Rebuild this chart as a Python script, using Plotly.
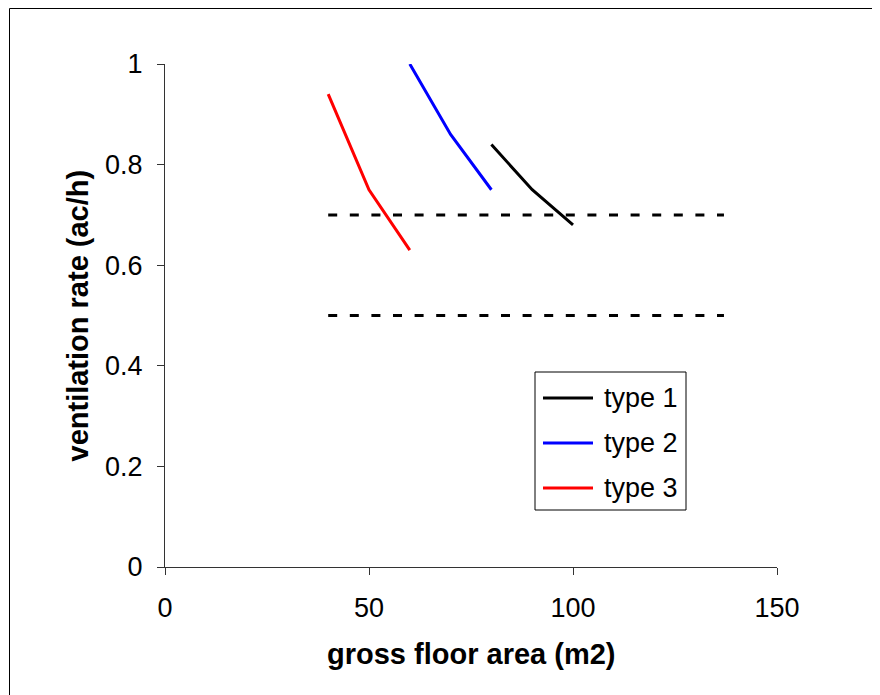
import plotly.graph_objects as go

# ---- data ----
x_type1 = [80, 90, 100]
y_type1 = [0.84, 0.75, 0.68]
x_type2 = [60, 70, 80]
y_type2 = [1.0, 0.86, 0.75]
x_type3 = [40, 50, 60]
y_type3 = [0.94, 0.75, 0.63]
limit_x = [40, 137]
limit_upper = [0.7, 0.7]
limit_lower = [0.5, 0.5]
series_names = ["type 1", "type 2", "type 3"]
series_colors = ["#000000", "#0000FF", "#FF0000"]
x_ticks = [0, 50, 100, 150]
y_ticks = [0, 0.2, 0.4, 0.6, 0.8, 1]

FONT = "Arial, Liberation Sans, sans-serif"
W, H = 880, 695
OFF = 8  # page body margin: screen px = figure px + OFF
# plot area in screen pixels: x 165..777, y 64..567
L, T = 165 - OFF, 64 - OFF
R, B = W - (777 - OFF), H - (567 - OFF)
pw, ph = W - L - R, H - T - B

def px_x(p):  # screen pixel -> paper x
    return (p - OFF - L) / pw

def px_y(p):  # screen pixel -> paper y
    return (H - B - (p - OFF)) / ph

fig = go.Figure()
for xs, ys, name, col in zip([x_type1, x_type2, x_type3],
                             [y_type1, y_type2, y_type3],
                             series_names, series_colors):
    fig.add_trace(go.Scatter(x=xs, y=ys, mode="lines", name=name,
                             line=dict(color=col, width=3), showlegend=False))
for ys in [limit_upper, limit_lower]:
    fig.add_trace(go.Scatter(x=limit_x, y=ys, mode="lines", showlegend=False,
                             line=dict(color="#000000", width=3, dash="9px,12.6px")))

shapes = []
annotations = []
# outer frame (right/bottom edges fall outside the visible window)
shapes.append(dict(type="rect", xref="paper", yref="paper",
                   x0=px_x(9.5), x1=px_x(OFF + W + 5), y0=px_y(OFF + H + 5), y1=px_y(OFF + 0.5),
                   line=dict(color="#000000", width=1), fillcolor="rgba(0,0,0,0)"))
# legend box
shapes.append(dict(type="rect", xref="paper", yref="paper",
                   x0=px_x(535), x1=px_x(686), y0=px_y(510), y1=px_y(372),
                   line=dict(color="#000000", width=1), fillcolor="white"))
for i, (name, col) in enumerate(zip(series_names, series_colors)):
    yy = 398 + 45 * i
    shapes.append(dict(type="line", xref="paper", yref="paper",
                       x0=px_x(543), x1=px_x(593), y0=px_y(yy), y1=px_y(yy),
                       line=dict(color=col, width=3)))
    annotations.append(dict(xref="paper", yref="paper", x=px_x(602), y=px_y(yy),
                            text=name, showarrow=False, xanchor="left", yanchor="middle",
                            font=dict(family=FONT, size=27, color="#000000")))
# axis titles
annotations.append(dict(xref="paper", yref="paper", x=0.5, y=px_y(654),
                        text="<b>gross floor area (m2)</b>", showarrow=False,
                        xanchor="center", yanchor="middle",
                        font=dict(family=FONT, size=29, color="#000000")))
annotations.append(dict(xref="paper", yref="paper", x=px_x(77), y=0.5,
                        text="<b>ventilation rate (ac/h)</b>", showarrow=False,
                        textangle=-90, xanchor="center", yanchor="middle",
                        font=dict(family=FONT, size=29, color="#000000")))

fig.update_layout(
    width=W, height=H,
    margin=dict(l=L, r=R, t=T, b=B),
    paper_bgcolor="white", plot_bgcolor="white",
    font=dict(family=FONT, size=27, color="#000000"),
    shapes=shapes, annotations=annotations,
    showlegend=False,
)
fig.update_xaxes(range=[0, 150], tickvals=x_ticks, ticktext=[str(v) for v in x_ticks],
                 showgrid=False, zeroline=False, showline=True, linecolor="#333333",
                 linewidth=1, ticks="outside", ticklen=7, tickcolor="#333333",
                 ticklabelstandoff=10)
fig.update_yaxes(range=[0, 1], tickvals=y_ticks, ticktext=[f"{v:g}" for v in y_ticks],
                 showgrid=False, zeroline=False, showline=True, linecolor="#333333",
                 linewidth=1, ticks="outside", ticklen=7, tickcolor="#333333",
                 ticklabelstandoff=9)

fig.write_html("out.html")
